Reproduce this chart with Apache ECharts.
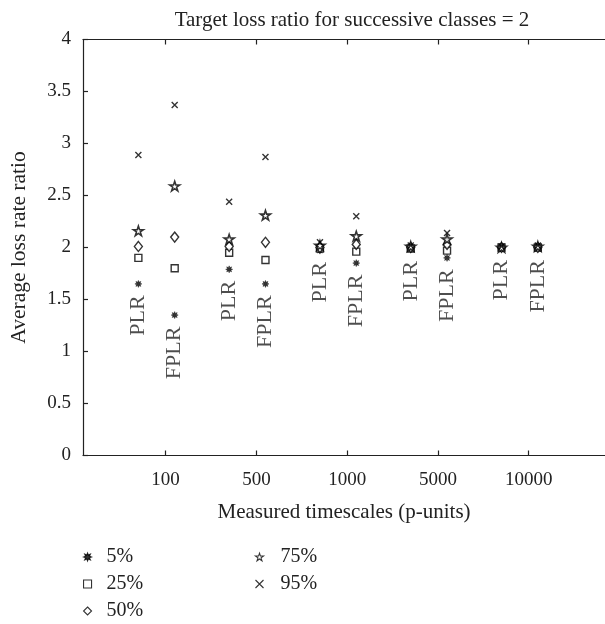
<!DOCTYPE html>
<html>
<head>
<meta charset="utf-8">
<script src="https://cdn.jsdelivr.net/npm/echarts@6/dist/echarts.min.js"></script>
<style>html,body{margin:0;padding:0;background:#fff}#c{width:605px;height:624px}</style>
</head>
<body>
<div id="c"></div>
<script>
// ---- data ----
const timescales = ['100', '500', '1000', '5000', '10000'];
const methods = ['PLR', 'FPLR'];
const percentiles = ['5%', '25%', '50%', '75%', '95%'];
const yTicks = [0, 0.5, 1, 1.5, 2, 2.5, 3, 3.5, 4];

const plr5  = [1.65, 1.79, 1.97, 1.98, 1.99];
const plr25 = [1.90, 1.95, 1.99, 1.99, 2.00];
const plr50 = [2.01, 2.01, 2.00, 2.00, 2.00];
const plr75 = [2.16, 2.08, 2.02, 2.01, 2.00];
const plr95 = [2.89, 2.44, 2.05, 2.02, 2.01];

const fplr5  = [1.35, 1.65, 1.85, 1.90, 1.99];
const fplr25 = [1.80, 1.88, 1.96, 1.97, 2.00];
const fplr50 = [2.10, 2.05, 2.03, 2.03, 2.00];
const fplr75 = [2.59, 2.31, 2.11, 2.08, 2.01];
const fplr95 = [3.37, 2.87, 2.30, 2.14, 2.02];

// ---- layout helpers ----
const methodOffset = { PLR: -0.3, FPLR: 0.1 };
const FONT = 'Liberation Serif';
const TXT = '#222';

function pts(plrArr, fplrArr) {
  const out = [];
  timescales.forEach((t, i) => {
    out.push([i + 1 + methodOffset.PLR, plrArr[i]]);
    out.push([i + 1 + methodOffset.FPLR, fplrArr[i]]);
  });
  return out;
}

function burst(n) {
  let p = 'path://';
  for (let i = 0; i < 2 * n; i++) {
    const a = Math.PI * i / n - Math.PI / 2;
    const r = i % 2 === 0 ? 50 : 26;
    p += (i === 0 ? 'M' : 'L') + (50 + r * Math.cos(a)).toFixed(2) + ',' + (50 + r * Math.sin(a)).toFixed(2);
  }
  return p + 'Z';
}
const starPath = 'path://M50,2 L61,36 L97,36 L68,57 L79,92 L50,71 L21,92 L32,57 L3,36 L39,36 Z';
const crossPath = 'path://M0,0L10,10M10,0L0,10';

const seriesDefs = [
  { name: '5%',  data: pts(plr5, fplr5),   symbol: burst(8), size: 7, style: { color: '#000', borderColor: '#000', borderWidth: 0.5 } },
  { name: '25%', data: pts(plr25, fplr25), symbol: 'rect', size: 7, style: { color: '#fff', borderColor: '#000', borderWidth: 1.4 } },
  { name: '50%', data: pts(plr50, fplr50), symbol: 'diamond', size: [8, 10], style: { color: '#fff', borderColor: '#000', borderWidth: 1.4 } },
  { name: '75%', data: pts(plr75, fplr75), symbol: starPath, size: 10, style: { color: '#fff', borderColor: '#000', borderWidth: 1.6 } },
  { name: '95%', data: pts(plr95, fplr95), symbol: crossPath, size: 6, style: { color: 'none', borderColor: '#000', borderWidth: 1.4 } }
];

const series = seriesDefs.map(d => ({
  name: d.name, type: 'scatter', xAxisIndex: 0, yAxisIndex: 0,
  data: d.data, symbol: d.symbol, symbolSize: d.size, symbolKeepAspect: true, itemStyle: d.style,
  emphasis: { disabled: true }, animation: false
}));

// method text labels below the lowest (5%) marker
const labelData = [];
timescales.forEach((t, i) => {
  labelData.push([i + 1 + methodOffset.PLR, plr5[i], methods[0]]);
  labelData.push([i + 1 + methodOffset.FPLR, fplr5[i], methods[1]]);
});
series.push({
  name: 'methodLabels', type: 'scatter', data: labelData, symbol: 'circle', symbolSize: 1,
  itemStyle: { color: 'transparent' }, silent: true, animation: false,
  label: {
    show: true, position: 'bottom', distance: 11, rotate: 90,
    align: 'right', verticalAlign: 'middle',
    formatter: p => p.data[2],
    fontFamily: FONT, fontSize: 22, color: TXT
  }
});

const xMin = 0.09, xMax = 5.84;
const tickVals = timescales.map((t, i) => i + 1);

const legendBase = {
  orient: 'vertical', top: 547, padding: 0,
  itemWidth: 8, itemHeight: 8, itemGap: 7, selectedMode: false, symbolKeepAspect: true,
  itemStyle: { borderWidth: 1.1 }
};

const chart = echarts.init(document.getElementById('c'), null, { renderer: 'canvas' });
chart.setOption({
  backgroundColor: '#fff',
  animation: false,
  title: {
    text: 'Target loss ratio for successive classes = 2',
    left: 347, top: 5, textAlign: 'center',
    textStyle: { fontFamily: FONT, fontSize: 21, fontWeight: 'normal', color: TXT }
  },
  grid: { left: 82, right: 0, top: 39.5, bottom: 168.5 },
  legend: [
    Object.assign({}, legendBase, {
      data: ['5%', '25%', '50%'], left: 83,
      textStyle: { fontFamily: FONT, fontSize: 20, color: TXT, lineHeight: 20, padding: [0, 0, 0, 10] }
    }),
    Object.assign({}, legendBase, {
      data: ['75%', '95%'], left: 253,
      textStyle: { fontFamily: FONT, fontSize: 20, color: TXT, lineHeight: 20, padding: [0, 0, 0, 12] }
    })
  ],
  xAxis: [
    {
      type: 'value', position: 'bottom', min: xMin, max: xMax,
      name: 'Measured timescales (p-units)', nameLocation: 'middle', nameGap: 46,
      nameTextStyle: { fontFamily: FONT, fontSize: 21, color: TXT },
      axisLine: { show: true, lineStyle: { color: '#222', width: 1.2 } },
      axisTick: { show: true, inside: true, length: 5, customValues: tickVals, lineStyle: { color: '#222', width: 1.2 } },
      axisLabel: { show: true, customValues: tickVals, formatter: v => timescales[Math.round(v) - 1] || '', margin: 15,
        fontFamily: FONT, fontSize: 19, color: TXT },
      splitLine: { show: false }
    },
    {
      type: 'value', position: 'top', min: xMin, max: xMax,
      axisLine: { show: true, lineStyle: { color: '#222', width: 1.2 } },
      axisTick: { show: true, inside: true, length: 5, customValues: tickVals, lineStyle: { color: '#222', width: 1.2 } },
      axisLabel: { show: false },
      splitLine: { show: false }
    }
  ],
  yAxis: {
    type: 'value', min: yTicks[0], max: yTicks[yTicks.length - 1], interval: 0.5,
    name: 'Average loss rate ratio', nameLocation: 'middle', nameGap: 53,
    nameTextStyle: { fontFamily: FONT, fontSize: 21.5, color: TXT },
    axisLine: { show: true, lineStyle: { color: '#222', width: 1.2 } },
    axisTick: { show: true, inside: true, length: 5, lineStyle: { color: '#222', width: 1.2 } },
    axisLabel: { margin: 12, fontFamily: FONT, fontSize: 19, color: TXT },
    splitLine: { show: false }
  },
  series: series
});
</script>
</body>
</html>
